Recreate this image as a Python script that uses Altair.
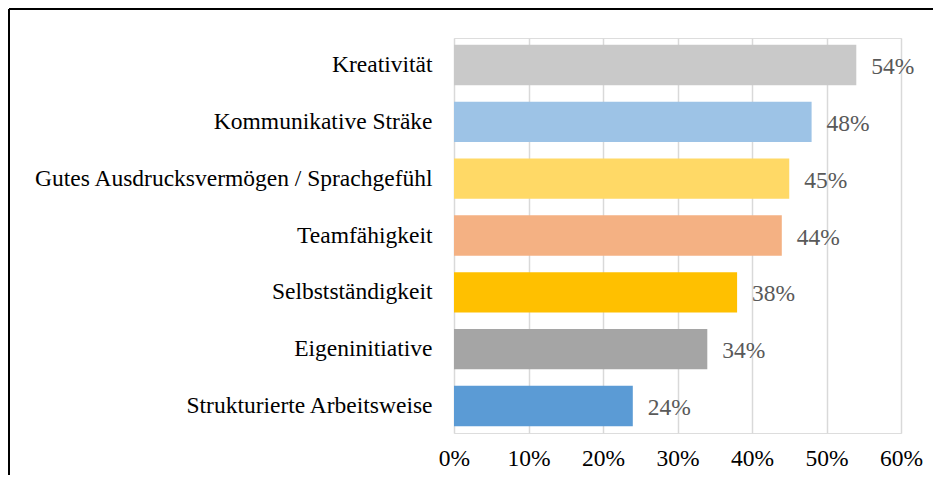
import altair as alt
import pandas as pd

categories = [
    "Kreativität",
    "Kommunikative Sträke",
    "Gutes Ausdrucksvermögen / Sprachgefühl",
    "Teamfähigkeit",
    "Selbstständigkeit",
    "Eigeninitiative",
    "Strukturierte Arbeitsweise",
]
values = [0.54, 0.48, 0.45, 0.44, 0.38, 0.34, 0.24]
colors = ["#C9C9C9", "#9DC3E6", "#FFD966", "#F4B183", "#FFC000", "#A5A5A5", "#5B9BD5"]

df = pd.DataFrame({"cat": categories, "val": values, "color": colors})

W, H = 447, 395
FONT = "Times New Roman, Liberation Serif, serif"
FS = 23.5

y_enc = alt.Y("cat:N", sort=categories, title=None,
              scale=alt.Scale(paddingInner=0.29, paddingOuter=0.12),
              axis=alt.Axis(domain=False, ticks=False, labelFontSize=FS, labelColor="#000000",
                            labelFont=FONT, labelPadding=22, labelLimit=430))
x_enc = alt.X("val:Q", title=None,
              scale=alt.Scale(domain=[0, 0.6], nice=False),
              axis=alt.Axis(format="%", values=[0, 0.1, 0.2, 0.3, 0.4, 0.5, 0.6],
                            domain=False, ticks=False, grid=True, gridColor="#D9D9D9",
                            gridWidth=1.5, labelFontSize=FS, labelColor="#000000",
                            labelFont=FONT, labelPadding=13, labelFlush=False))

bars = alt.Chart(df).mark_bar().encode(
    x=x_enc, y=y_enc, color=alt.Color("color:N", scale=None)
)

labels = alt.Chart(df).mark_text(
    align="left", baseline="middle", dx=15, dy=2, fontSize=FS, font=FONT, color="#595959"
).encode(x="val:Q", y=alt.Y("cat:N", sort=categories), text=alt.Text("val:Q", format=".0%"))

frame_top = alt.Chart(df).mark_rule(color="#000000", strokeWidth=2).encode(
    x=alt.value(-445), x2=alt.value(W + 200), y=alt.value(-29)
)
frame_left = alt.Chart(df).mark_rule(color="#000000", strokeWidth=2).encode(
    x=alt.value(-445), y=alt.value(-29), y2=alt.value(H + 200)
)

chart = alt.layer(bars, labels, frame_top, frame_left).properties(
    width=W, height=H,
    autosize=alt.AutoSizeParams(type="none"),
    padding={"left": 446, "top": 30, "right": 32, "bottom": 42},
).configure_view(stroke=None).configure(font=FONT)

chart.save("out.html", embed_options={"renderer": "svg", "actions": False})
